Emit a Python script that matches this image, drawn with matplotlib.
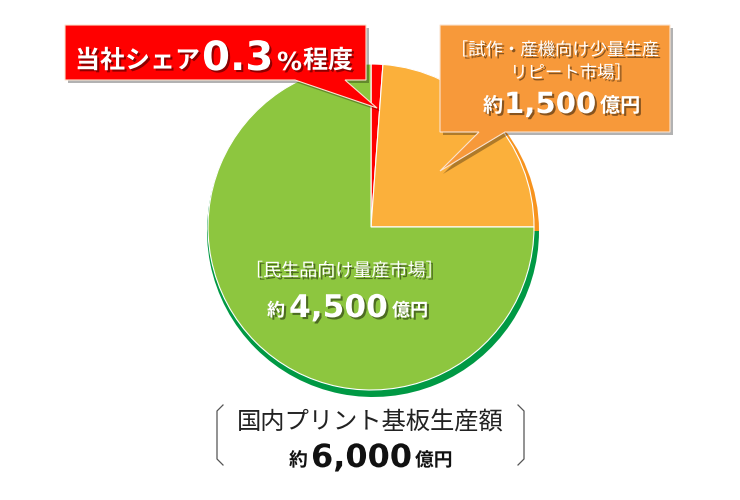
import matplotlib
matplotlib.use("Agg")
import matplotlib.pyplot as plt
import matplotlib.patheffects as pe
from matplotlib.patches import Polygon

plt.rcParams['font.family'] = ['Noto Sans CJK JP', 'DejaVu Sans']

# データ（赤は見やすくするため実際の0.3%より大きく描かれている）
segments = ["当社シェア", "試作・産機向け少量生産リピート市場", "民生品向け量産市場"]
sizes = [70, 1430, 4500]
colors = ["#ff0000", "#fbb03b", "#8dc63f"]
rim_colors = ["#d00000", "#f7931e", "#009944"]

share_label = ["当社シェア", "0.3", "%程度"]
small_lines = ["［試作・産機向け少量生産", "リピート市場］"]
small_value = ["約", "1,500", "億円"]
mass_line = "［民生品向け量産市場］"
mass_value = ["約", "4,500", "億円"]
total_line = "国内プリント基板生産額"
total_value = ["約", "6,000", "億円"]

W, H = 740, 500
fig = plt.figure(figsize=(7.4, 5), dpi=100)
ax = fig.add_axes([0, 0, 1, 1])


def Y(y):
    # 画像のピクセル座標（上が0）を軸の座標に変換
    return H - y


# 影（濃い色の縁）
rim, _ = ax.pie(sizes, colors=rim_colors, startangle=90, counterclock=False,
                center=(373, Y(231)), radius=166)
for w in rim:
    w.set_zorder(1)

wedges, _ = ax.pie(sizes, colors=colors, startangle=90, counterclock=False,
                   center=(371, Y(227)), radius=163,
                   wedgeprops=dict(edgecolor="white", linewidth=0.8))
for w in wedges:
    w.set_zorder(2)

ax.set_xlim(0, W)
ax.set_ylim(0, H)
ax.axis('off')

shadow = [pe.SimplePatchShadow(offset=(1.5, -1.5), shadow_rgbFace="black", alpha=0.45), pe.Normal()]


def callout(points, color):
    pts = [(x, Y(y)) for x, y in points]
    sh = Polygon([(x + 3, y - 3) for x, y in pts], closed=True, facecolor="black",
                 alpha=0.3, edgecolor="none", zorder=3)
    ax.add_patch(sh)
    ax.add_patch(Polygon(pts, closed=True, facecolor=color, edgecolor="#fbe3d0",
                         linewidth=0.8, zorder=4))


# 赤い吹き出し
callout([(65, 25), (366, 25), (366, 80), (345, 80), (377, 108), (295, 80), (65, 80)], "#ff0000")
ax.text(75, Y(68), share_label[0], fontsize=18, weight='bold', color="white",
        va='baseline', ha='left', zorder=5, path_effects=shadow)
ax.text(202, Y(70), share_label[1], fontsize=29, weight='bold', color="white",
        family='DejaVu Sans', va='baseline', ha='left', zorder=5, path_effects=shadow)
ax.text(277, Y(70), share_label[2][0], fontsize=18, weight='bold', color="white",
        family='DejaVu Sans', va='baseline', ha='left', zorder=5, path_effects=shadow)
ax.text(303, Y(68), share_label[2][1:], fontsize=18, weight='bold', color="white",
        va='baseline', ha='left', zorder=5, path_effects=shadow)

# オレンジの吹き出し
callout([(440, 25), (670, 25), (670, 132), (505, 132), (440, 171), (479, 132), (440, 132)], "#f7993a")
ax.text(555, Y(50), small_lines[0], fontsize=12.5, color="white", ha='center', va='center',
        zorder=5, path_effects=shadow)
ax.text(571, Y(73), small_lines[1], fontsize=12.5, color="white", ha='center', va='center',
        zorder=5, path_effects=shadow)


def value_text(x0, x1, x2, y, parts, big, small, color, fx):
    ax.text(x0, Y(y - 1), parts[0], fontsize=small, weight='bold', color=color,
            va='baseline', ha='left', zorder=5, path_effects=fx)
    ax.text(x1, Y(y), parts[1], fontsize=big, weight='bold', color=color,
            family='DejaVu Sans', va='baseline', ha='left', zorder=5, path_effects=fx)
    ax.text(x2, Y(y - 1), parts[2], fontsize=small, weight='bold', color=color,
            va='baseline', ha='left', zorder=5, path_effects=fx)


value_text(483, 504, 600, 113, small_value, 21, 14.5, "white", shadow)

# 緑のラベル
ax.text(344, Y(271), mass_line, fontsize=13, color="white", ha='center', va='center',
        zorder=5, path_effects=shadow)
value_text(267, 289, 392, 317, mass_value, 22.5, 13, "white", shadow)

# 下の合計
ax.text(370, Y(423), total_line, fontsize=17.5, color="#222222", ha='center', va='center', zorder=5)
value_text(289, 311, 415, 467, total_value, 23, 13.5, "#111111", [pe.Normal()])

# 括弧
ax.plot([223, 217, 217, 223], [Y(405), Y(411), Y(459), Y(465)], color="#555555", lw=0.9)
ax.plot([518, 524, 524, 518], [Y(405), Y(411), Y(459), Y(465)], color="#555555", lw=0.9)

fig.savefig("out.png", dpi=100)
